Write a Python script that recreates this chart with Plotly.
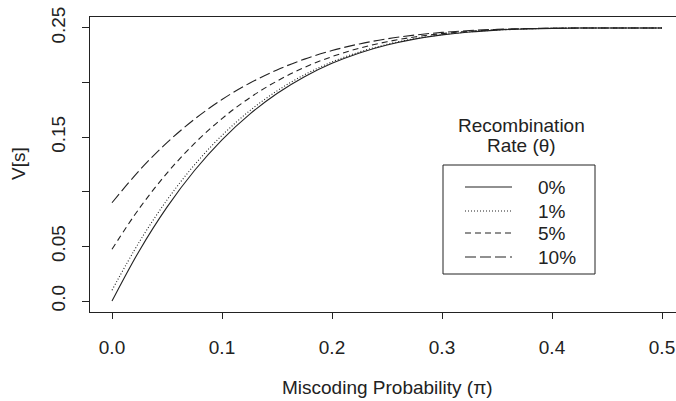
import plotly.graph_objects as go

# Miscoding probability (x)
pi_vals = [0.0, 0.025, 0.05, 0.075, 0.1, 0.125, 0.15, 0.175, 0.2, 0.225, 0.25,
           0.275, 0.3, 0.325, 0.35, 0.375, 0.4, 0.425, 0.45, 0.475, 0.5]

# V[s] for each recombination rate
v_0 = [0.0, 0.04637, 0.08598, 0.11950, 0.14760, 0.17090, 0.18998, 0.20537, 0.21760, 0.22712,
       0.23438, 0.23975, 0.24360, 0.24625, 0.24798, 0.24902, 0.24960, 0.24987, 0.24998, 0.25, 0.25]
v_1 = [0.0099, 0.05444, 0.09247, 0.12467, 0.15166, 0.17403, 0.19235, 0.20714, 0.21888, 0.22803,
       0.23499, 0.24015, 0.24385, 0.24640, 0.24806, 0.24906, 0.24962, 0.24988, 0.24998, 0.25, 0.25]
v_5 = [0.0475, 0.08506, 0.11714, 0.14429, 0.16706, 0.18593, 0.20138, 0.21385, 0.22376, 0.23147,
       0.23734, 0.24170, 0.24482, 0.24696, 0.24836, 0.24921, 0.24968, 0.24990, 0.24998, 0.25, 0.25]
v_10 = [0.09, 0.11968, 0.14503, 0.16648, 0.18446, 0.19938, 0.21158, 0.22144, 0.22926, 0.23536,
        0.24, 0.24344, 0.24590, 0.24760, 0.24870, 0.24938, 0.24974, 0.24992, 0.24998, 0.25, 0.25]

series_names = ["0%", "1%", "5%", "10%"]
series_values = [v_0, v_1, v_5, v_10]
dashes = ["solid", "1px,2px", "6px,4px", "11px,4px"]

x_ticks = [0.0, 0.1, 0.2, 0.3, 0.4, 0.5]
x_ticklabels = ["0.0", "0.1", "0.2", "0.3", "0.4", "0.5"]
y_ticks = [0.0, 0.05, 0.10, 0.15, 0.20, 0.25]
y_ticklabels = ["0.0", "0.05", "", "0.15", "", "0.25"]

W, H = 676, 401
L, R, T, B = 90, 0, 17, 89
PW, PH = W - L - R, H - T - B
FONT = "Liberation Sans, Arial, Helvetica, sans-serif"
INK = "#222222"


def px(X):
    return (X - L) / PW


def py(Y):
    return (H - B - Y) / PH


fig = go.Figure()
for name, vals, dash in zip(series_names, series_values, dashes):
    fig.add_trace(go.Scatter(x=pi_vals, y=vals, mode="lines", name=name,
                             line=dict(color=INK, width=1.1, dash=dash, shape="spline"),
                             showlegend=False))

# manual legend
legend_rows_y = [187, 211, 233, 257]
for name, dash, Y in zip(series_names, dashes, legend_rows_y):
    fig.add_shape(type="line", xref="paper", yref="paper",
                  x0=px(465), x1=px(512), y0=py(Y), y1=py(Y),
                  line=dict(color=INK, width=1.1, dash=dash))
    fig.add_annotation(xref="paper", yref="paper", x=px(536), y=py(Y),
                       xanchor="left", yanchor="middle", text=name, showarrow=False,
                       font=dict(size=19, color=INK, family=FONT))
fig.add_shape(type="rect", xref="paper", yref="paper",
              x0=px(443), x1=px(595), y0=py(274), y1=py(165),
              line=dict(color=INK, width=1))
fig.add_annotation(xref="paper", yref="paper", x=px(521), y=py(125), text="Recombination",
                   showarrow=False, xanchor="center", yanchor="middle",
                   font=dict(size=19, color=INK, family=FONT))
fig.add_annotation(xref="paper", yref="paper", x=px(521), y=py(145), text="Rate (θ)",
                   showarrow=False, xanchor="center", yanchor="middle",
                   font=dict(size=19, color=INK, family=FONT))

# axis titles
fig.add_annotation(xref="paper", yref="paper", x=px(387), y=py(387),
                   text="Miscoding Probability (π)", showarrow=False,
                   xanchor="center", yanchor="middle",
                   font=dict(size=19, color=INK, family=FONT))
fig.add_annotation(xref="paper", yref="paper", x=px(18), y=py(164),
                   text="V[s]", showarrow=False, textangle=-90,
                   xanchor="center", yanchor="middle",
                   font=dict(size=19, color=INK, family=FONT))

fig.update_layout(
    width=W, height=H,
    margin=dict(l=L, r=R, t=T, b=B, pad=0),
    paper_bgcolor="white", plot_bgcolor="white",
    font=dict(family=FONT, size=19, color=INK),
    hovermode=False,
    xaxis=dict(range=[-0.02, -0.02 + PW / 1100.0], tickvals=x_ticks, ticktext=x_ticklabels,
               showgrid=False, zeroline=False, showline=True, linecolor=INK, linewidth=1,
               mirror=True, ticks="outside", ticklen=6, tickcolor=INK, tickwidth=1,
               ticklabelstandoff=12, tickfont=dict(size=19, color=INK, family=FONT)),
    yaxis=dict(range=[-0.01, 0.26], tickvals=y_ticks, ticktext=y_ticklabels,
               showgrid=False, zeroline=False, showline=True, linecolor=INK, linewidth=1,
               mirror=False, ticks="outside", ticklen=7, tickcolor=INK, tickwidth=1,
               tickangle=-90, ticklabelstandoff=9,
               tickfont=dict(size=19, color=INK, family=FONT)),
)

fig.write_html("out.html", config={"displayModeBar": False},
               post_script="document.body.style.margin='0';document.body.style.padding='0';")
